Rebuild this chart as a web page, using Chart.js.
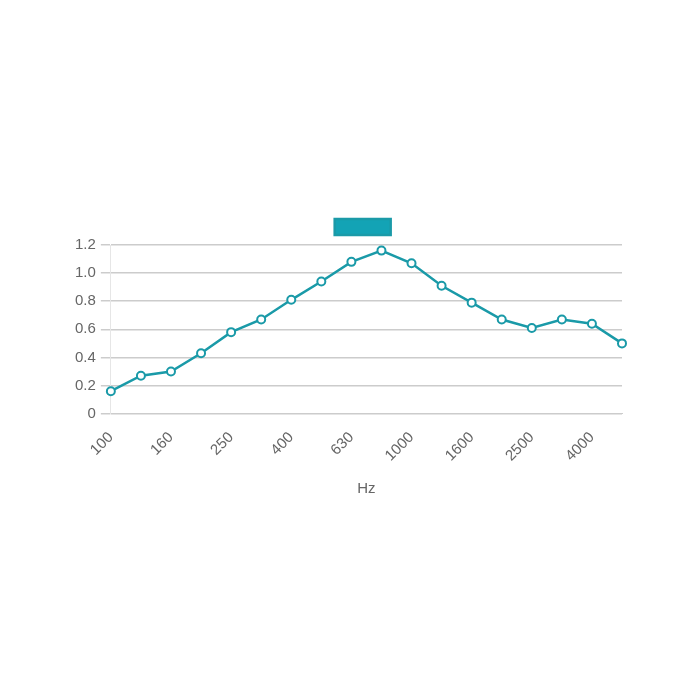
<!DOCTYPE html>
<html>
<head>
<meta charset="utf-8">
<script src="https://cdn.jsdelivr.net/npm/chart.js@4"></script>
<style>
  body { margin: 0; background: #fff; }
  #wrap { width: 700px; height: 700px; }
</style>
</head>
<body>
<div id="wrap"><canvas id="hzChart"></canvas></div>
<script>
// frequenze (Hz) e valori
const bande = ['100', '125', '160', '200', '250', '315', '400', '500', '630', '800', '1000', '1250', '1600', '2000', '2500', '3150', '4000', '5000'];
const valori = [0.16, 0.27, 0.30, 0.43, 0.58, 0.67, 0.81, 0.94, 1.08, 1.16, 1.07, 0.91, 0.79, 0.67, 0.61, 0.67, 0.64, 0.50];
const yTicks = [0, 0.2, 0.4, 0.6, 0.8, 1.0, 1.2];

const teal = '#1a9aa8';
Chart.defaults.font.family = '"Liberation Sans", Arial, sans-serif';
Chart.defaults.font.size = 15;
Chart.defaults.color = '#666';

new Chart(document.getElementById('hzChart'), {
    type: 'line',
    data: {
        labels: bande,
        datasets: [{
            label: '',
            data: valori,
            borderColor: teal,
            backgroundColor: '#13a3b5',
            borderWidth: 2.5,
            pointRadius: 4,
            pointBorderWidth: 2,
            pointBackgroundColor: '#fff',
            pointBorderColor: teal,
            fill: false,
            tension: 0
        }]
    },
    options: {
        responsive: true,
        maintainAspectRatio: false,
        animation: false,
        layout: { padding: { top: 209, bottom: 198, left: 70, right: 78 } },
        plugins: {
            legend: {
                fullSize: false,
                labels: { boxWidth: 56, boxHeight: 16 }
            },
            tooltip: { enabled: false }
        },
        scales: {
            x: {
                grid: { display: false },
                border: { color: '#ccc' },
                ticks: {
                    maxRotation: 45, minRotation: 45, autoSkip: false, padding: 7,
                    // una etichetta ogni due
                    callback: (v, i) => i % 2 === 0 ? bande[i] : ''
                },
                title: { display: true, text: 'Hz', font: { size: 15 }, padding: { top: 8 } }
            },
            y: {
                min: 0, max: 1.2,
                afterBuildTicks: s => { s.ticks = yTicks.map(v => ({ value: v })); },
                grid: { color: '#ccc', lineWidth: 1.5, tickLength: 10 },
                border: { color: '#e6e6e6' },
                ticks: {
                    padding: 5,
                    callback: v => v === 0 ? '0' : v.toFixed(1)
                }
            }
        }
    }
});
</script>
</body>
</html>
